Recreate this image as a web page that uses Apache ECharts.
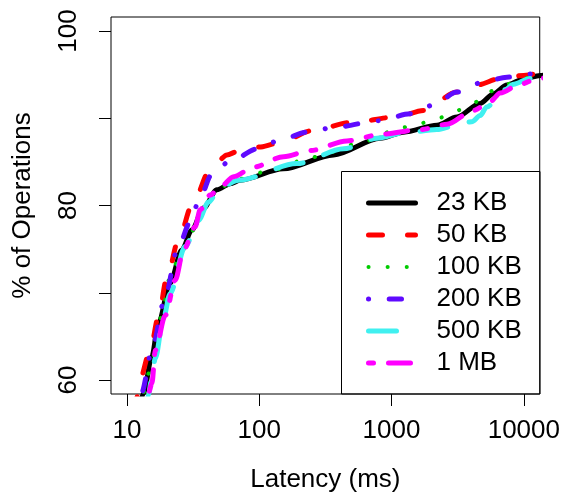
<!DOCTYPE html>
<html>
<head>
<meta charset="utf-8">
<script src="https://cdn.jsdelivr.net/npm/echarts@6/dist/echarts.min.js"></script>
<style>
  html, body { margin: 0; padding: 0; background: #ffffff; }
  #chart { width: 563px; height: 502px; }
</style>
</head>
<body>
<div id="chart"></div>
<script>
// Latency CDF per object size: [latency in ms, % of operations]
const seriesNames = ['23 KB', '50 KB', '100 KB', '200 KB', '500 KB', '1 MB'];

const cdf23KB = [[12.3,56.5],[13.35,58.5],[15.45,62.7],[17.3,66.5],[21.2,71.1],[26.0,74.9],[31.0,77.2],[37.9,79.7],[47.9,81.8],[60.4,82.5],[71.8,82.9],[152,84.2],[365,85.8],[822,87.7],[1234,88.4],[2205,89.2],[3121,90.15],[4680,91.7],[5900,92.8],[7450,93.8],[9950,94.5],[13300,94.9],[15000,95.0]];
const cdf50KB = [[11.6,56.5],[12.1,58.4],[12.5,60.0],[15.0,63.4],[17.3,67.25],[20.1,71.8],[24.5,76.0],[31.0,80.0],[42.6,84.1],[48,85.0],[57,85.8],[68.9,86.2],[100,86.7],[136,87.1],[257,88.6],[487,89.5],[1099,90.15],[1746,90.9],[3121,93.0],[4418,93.8],[6630,94.55],[9950,94.9],[12560,95.1],[15000,95.2]];
const cdf100KB = [[12.7,56.5],[13.3,58.4],[14.0,60.0],[15.45,62.1],[17.9,67.1],[21.9,72.6],[25.7,74.5],[29.2,76.4],[37.8,79.7],[47.3,81.8],[67.8,83.0],[128,84.1],[243,85.45],[334,86.1],[632,87.4],[1178,88.9],[1629,89.4],[2244,90.0],[3069,90.85],[4121,91.7],[5354,93.0],[7230,93.85],[9680,94.55],[13300,94.9],[15000,95.0]];
const cdf200KB = [[12.2,56.5],[12.8,58.4],[15.9,64.2],[18.9,68.8],[24.5,75.3],[30.1,78.1],[35.8,81.0],[43.9,83.6],[60.4,85.1],[97.5,86.5],[144,87.5],[229,88.4],[386,89.0],[795,89.7],[1384,90.5],[2076,91.5],[3121,93.0],[4955,94.15],[7450,94.7],[11830,95.1],[14450,95.3]];
const cdf500KB = [[13.8,56.5],[14.6,58.4],[15.3,60.0],[16.4,62.5],[18.9,67.1],[21.2,69.9],[27.6,75.3],[34.8,78.3],[41.4,80.4],[50.7,82.1],[69.8,82.9],[193,84.8],[434,86.5],[776,87.7],[1234,88.3],[2205,88.7],[3121,89.2],[4040,89.6],[4680,90.3],[5240,91.3],[6620,92.5],[7250,93.3],[8360,93.9],[11170,94.55],[13300,94.75],[15000,94.9]];
const cdf1MB = [[13.9,56.5],[14.5,58.4],[15.45,59.6],[16.4,63.4],[19.5,67.4],[23.2,71.45],[26.8,74.9],[32.8,77.55],[35.8,79.5],[42.6,81.2],[50.7,82.1],[64,83.3],[90.6,84.4],[153,85.6],[243,86.3],[460,87.4],[871,88.2],[1648,88.7],[2624,89.3],[4165,90.9],[5570,91.9],[6630,92.9],[9400,93.9],[12560,94.5],[14520,94.65]];

const seriesData = [cdf23KB, cdf50KB, cdf100KB, cdf200KB, cdf500KB, cdf1MB];

// Axis ticks and labels
const xTicks = [10, 100, 1000, 10000];
const yTicks = [60, 70, 80, 90, 100];
const yLabels = [60, 80, 100];

// Line colours and dash patterns for each size
const lineColors = ['#000000', '#ff0000', '#00cc00', '#5f0aff', '#40f0f0', '#ff00ff'];
const lineWidths = [5, 5, 4, 5, 5, 5];
const lineTypes = ['solid', [14, 25], [0.1, 19], [0.1, 20.6, 12.3, 20.7], [28, 22], [5, 15, 22, 15]];

const FONT = '"Liberation Sans", Arial, Helvetica, sans-serif';

// x is plotted on a log10 scale: values go through log10, labels are 10^v
const toLog = v => Math.log10(v);

const chart = echarts.init(document.getElementById('chart'), null, { renderer: 'canvas' });

chart.setOption({
  animation: false,
  backgroundColor: '#ffffff',
  textStyle: { fontFamily: FONT },
  grid: {
    left: 111, right: 23, top: 17, bottom: 108,
    show: true, borderColor: '#000000', borderWidth: 1, backgroundColor: 'transparent'
  },
  xAxis: {
    type: 'value',
    min: toLog(xTicks[0]) - 0.12,
    max: toLog(xTicks[xTicks.length - 1]) + 0.12,
    name: 'Latency (ms)',
    nameLocation: 'middle',
    nameGap: 73,
    nameTextStyle: { fontSize: 26, color: '#000', fontFamily: FONT },
    axisLine: { show: false },
    splitLine: { show: false },
    axisTick: {
      show: true, inside: false, length: 12,
      lineStyle: { color: '#000', width: 1 },
      customValues: xTicks.map(toLog)
    },
    axisLabel: {
      show: true, margin: 24, fontSize: 26, color: '#000', fontFamily: FONT,
      customValues: xTicks.map(toLog),
      formatter: v => String(Math.round(Math.pow(10, v)))
    }
  },
  yAxis: {
    type: 'value',
    min: 58.4,
    max: 101.6,
    name: '% of Operations',
    nameLocation: 'middle',
    nameRotate: 90,
    nameGap: 75,
    nameTextStyle: { fontSize: 26, color: '#000', fontFamily: FONT },
    axisLine: { show: false },
    splitLine: { show: false },
    axisTick: {
      show: true, inside: false, length: 12,
      lineStyle: { color: '#000', width: 1 },
      customValues: yTicks
    },
    axisLabel: {
      show: true, rotate: 90, margin: 29, fontSize: 26, color: '#000', fontFamily: FONT,
      customValues: yLabels
    }
  },
  legend: {
    orient: 'vertical',
    left: 366,
    top: 189,
    padding: 0,
    itemWidth: 47,
    itemHeight: 14,
    itemGap: 4,
    selectedMode: false,
    itemStyle: { opacity: 0 },
    lineStyle: { width: 'inherit' },
    textStyle: { fontSize: 26, color: '#000', fontFamily: FONT, lineHeight: 28, padding: [0, 0, 0, 16] },
    data: seriesNames
  },
  graphic: [{
    type: 'rect',
    silent: true,
    z: 0,
    shape: { x: 341.5, y: 171.5, width: 198.5, height: 222.5 },
    style: { fill: 'transparent', stroke: '#000', lineWidth: 1 }
  }],
  series: seriesNames.map((name, i) => ({
    name: name,
    type: 'line',
    data: seriesData[i].map(p => [toLog(p[0]), p[1]]),
    showSymbol: false,
    symbol: 'circle',
    symbolSize: 0,
    smooth: 0.3,
    smoothMonotone: 'x',
    clip: true,
    color: lineColors[i],
    lineStyle: {
      color: lineColors[i],
      width: lineWidths[i],
      type: lineTypes[i],
      cap: 'round',
      join: 'round'
    },
    emphasis: { disabled: true }
  }))
});
</script>
</body>
</html>
